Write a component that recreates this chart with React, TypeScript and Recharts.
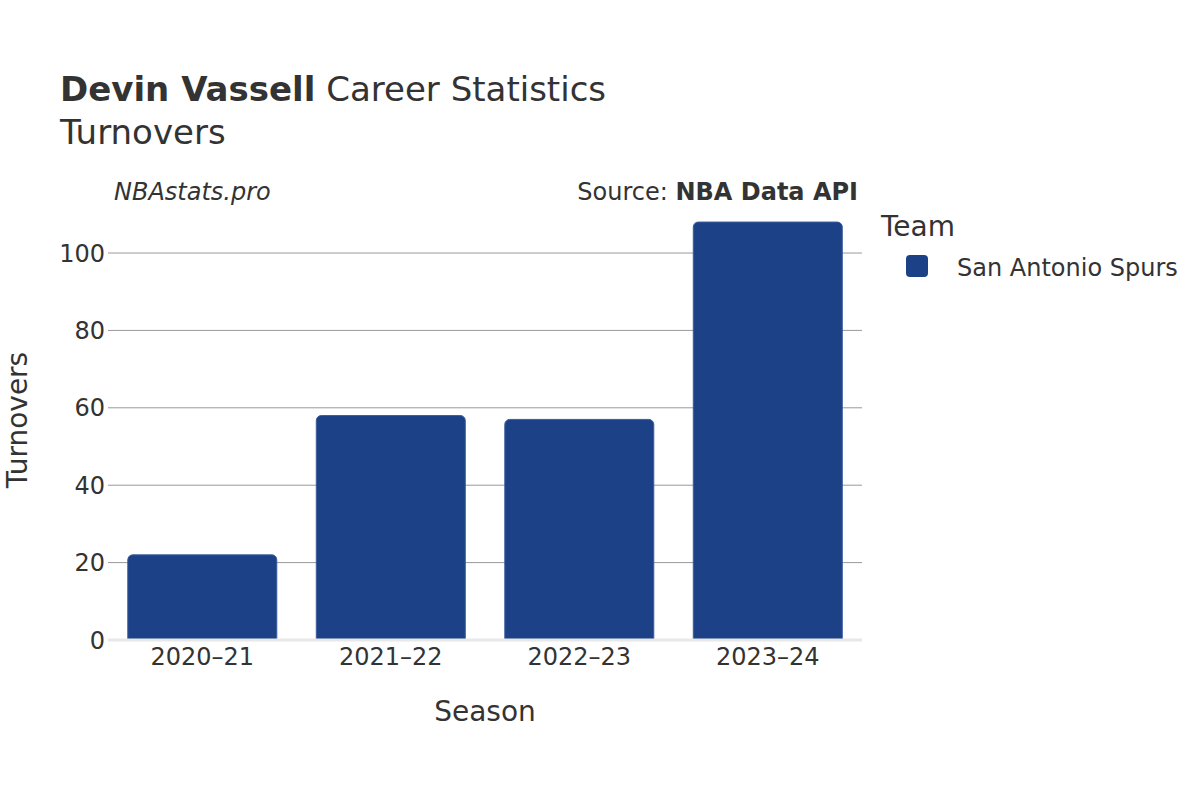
import React from 'react'
import { Bar, BarChart, CartesianGrid, ReferenceLine, XAxis, YAxis } from 'recharts'

const seasons = ['2020–21', '2021–22', '2022–23', '2023–24']
const turnovers = [22, 58, 57, 108]
const yTicks = [0, 20, 40, 60, 80, 100]

const teamName = 'San Antonio Spurs'
const teamColor = '#1c4187'

const data = seasons.map((season, i) => ({ season, turnovers: turnovers[i] }))

const FONT = '"DejaVu Sans", sans-serif'
const TEXT = '#333333'

export default function App() {
  return (
    <div
      style={{
        position: 'absolute',
        left: 0,
        top: 0,
        width: 1200,
        height: 800,
        background: '#fff',
        fontFamily: FONT,
      }}
    >
      <BarChart
        width={1200}
        height={800}
        data={data}
        margin={{ top: 200, right: 338, bottom: 100, left: 48 }}
        barCategoryGap="10.5%"
      >
        <CartesianGrid
          vertical={false}
          horizontalValues={yTicks}
          stroke="#999999"
          strokeWidth={1}
        />
        <XAxis
          dataKey="season"
          height={60}
          axisLine={false}
          tickLine={false}
          tickSize={0}
          tickMargin={8}
          tick={{ fill: TEXT, fontSize: 24, fontFamily: FONT }}
        />
        <YAxis
          width={60}
          domain={[0, 113.7]}
          ticks={yTicks}
          axisLine={false}
          tickLine={false}
          tickSize={0}
          tickMargin={3}
          tick={{ fill: TEXT, fontSize: 24, fontFamily: FONT }}
        />
        <Bar
          dataKey="turnovers"
          fill={teamColor}
          stroke="#3a5c9c"
          strokeWidth={1}
          radius={[5, 5, 0, 0]}
          isAnimationActive={false}
        />
        <ReferenceLine y={0} stroke="#e8e8e8" strokeWidth={3} />
      </BarChart>

      {/* titles, notes, axis titles and legend */}
      <svg
        width={1200}
        height={800}
        style={{ position: 'absolute', left: 0, top: 0, pointerEvents: 'none' }}
        fontFamily={FONT}
        fill={TEXT}
      >
        <text x={60} y={101} fontSize={34}>
          <tspan fontWeight="bold">Devin Vassell</tspan> Career Statistics
        </text>
        <text x={60} y={144} fontSize={34}>
          Turnovers
        </text>
        <text x={114} y={200} fontSize={24} fontStyle="italic">
          NBAstats.pro
        </text>
        <text x={858} y={200} fontSize={24} textAnchor="end">
          Source: <tspan fontWeight="bold">NBA Data API</tspan>
        </text>
        <text x={485} y={721} fontSize={28} textAnchor="middle">
          Season
        </text>
        <text
          x={27}
          y={420}
          fontSize={28}
          textAnchor="middle"
          transform="rotate(-90 27 420)"
        >
          Turnovers
        </text>
        <text x={881} y={236} fontSize={28}>
          Team
        </text>
        <rect x={906} y={255} width={22} height={22} rx={4} fill={teamColor} />
        <text x={957} y={276} fontSize={24}>
          {teamName}
        </text>
      </svg>
    </div>
  )
}
